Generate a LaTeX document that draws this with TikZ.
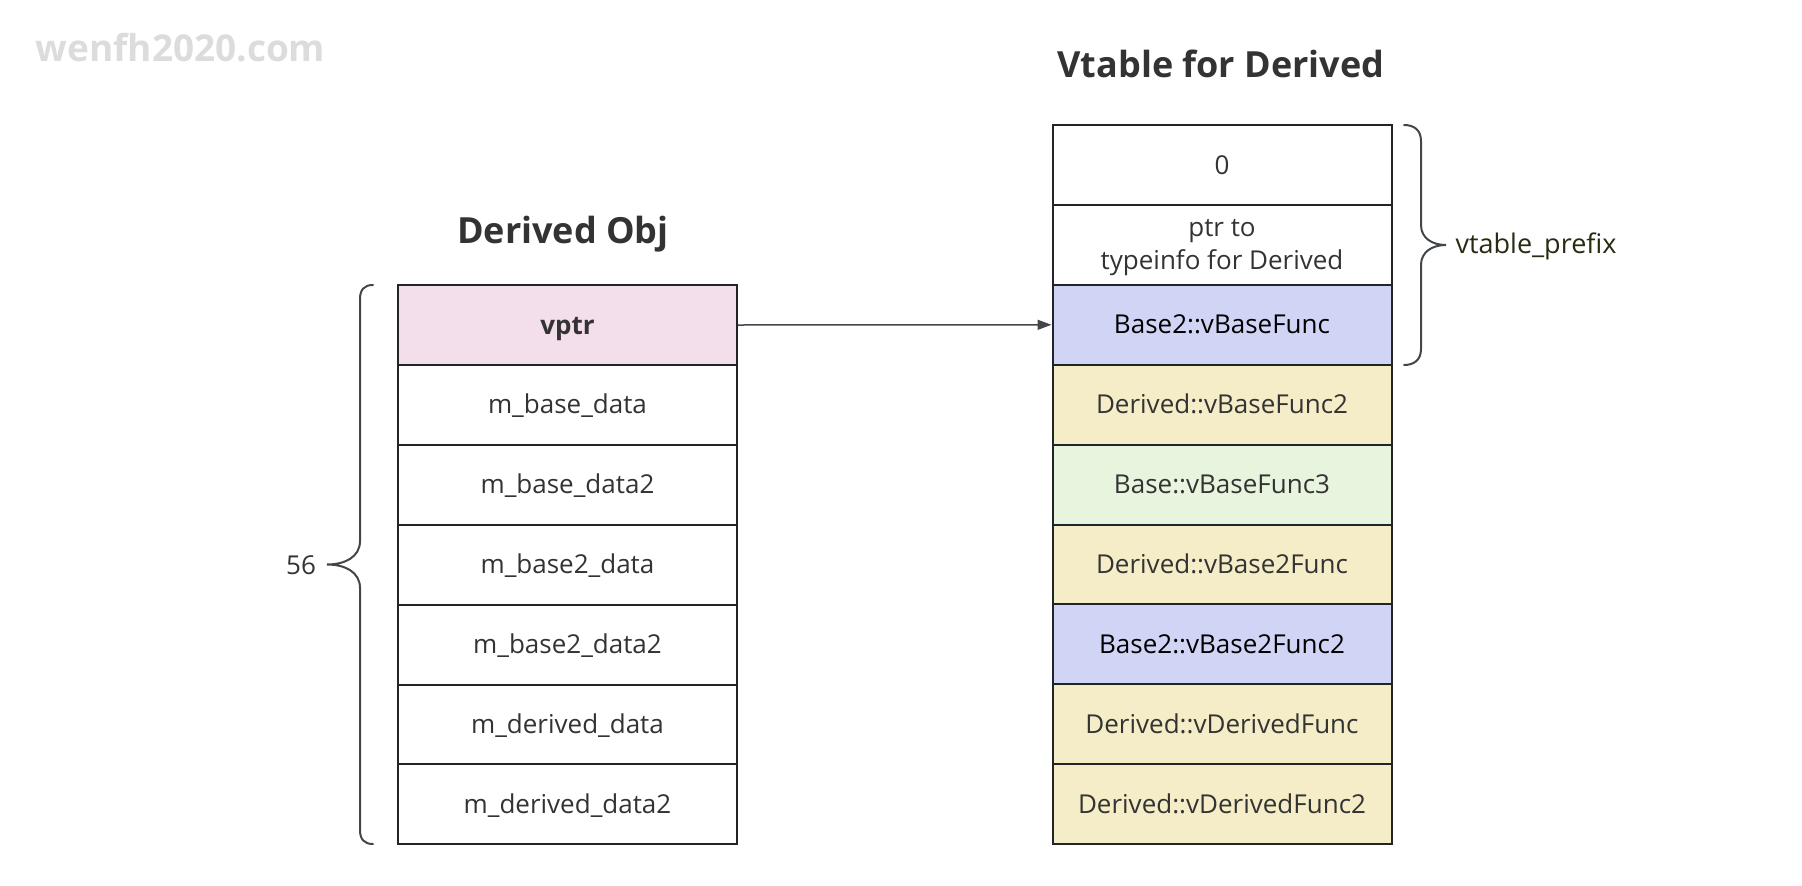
\documentclass[tikz,border=0pt]{standalone}
\usepackage{fontspec}
\setmainfont{Open Sans}
\usetikzlibrary{arrows.meta}
\definecolor{linec}{HTML}{212529}
\definecolor{txtc}{HTML}{333333}
\definecolor{pinkc}{HTML}{F3DEEC}
\definecolor{bluec}{HTML}{D1D5F5}
\definecolor{yelc}{HTML}{F5EDC7}
\definecolor{grnc}{HTML}{E7F4DE}
\definecolor{wmc}{HTML}{DCDCDC}
\definecolor{prefc}{HTML}{2A2A10}
\begin{document}
\begin{tikzpicture}[x=1pt,y=-1pt,
  cellfont/.style={font=\fontsize{26}{33}\selectfont},
  cell/.style={draw=linec, line width=2pt, minimum width=339pt, minimum height=79.9pt,
    inner sep=0pt, text=txtc, cellfont, align=center, text height=19pt, text depth=1pt},
  title/.style={text=txtc, font=\fontsize{36}{40}\selectfont\bfseries},
  bracec/.style={draw=linec!85, line width=2pt, line cap=round}]
\useasboundingbox (0,0) rectangle (1802,886);
% watermark
\node[text=wmc, font=\fontsize{37}{40}\selectfont\bfseries, anchor=west] (wm) at (32,48) {wenfh2020.com};
% titles
\node[title] (t1) at (563,234) {Derived Obj};
\node[title] (t2) at (1221,64) {Vtable for Derived};
% left table
\node[cell, fill=pinkc, font=\fontsize{26}{33}\selectfont\bfseries] (l1) at (567.5,325) {vptr};
\node[cell] (l2) at (567.5,404.9) {m\_base\_data};
\node[cell] (l3) at (567.5,484.8) {m\_base\_data2};
\node[cell] (l4) at (567.5,564.7) {m\_base2\_data};
\node[cell] (l5) at (567.5,644.6) {m\_base2\_data2};
\node[cell] (l6) at (567.5,724.5) {m\_derived\_data};
\node[cell] (l7) at (567.5,804.4) {m\_derived\_data2};
% right table
\node[cell] (r1) at (1222,165) {0};
\node[cell, text height=, text depth=0pt] (r2) at (1222,244.9) {ptr to\\typeinfo for Derived};
\node[cell, fill=bluec, text=black] (r3) at (1222,324.8) {Base2::vBaseFunc};
\node[cell, fill=yelc] (r4) at (1222,404.7) {Derived::vBaseFunc2};
\node[cell, fill=grnc] (r5) at (1222,484.6) {Base::vBaseFunc3};
\node[cell, fill=yelc] (r6) at (1222,564.5) {Derived::vBase2Func};
\node[cell, fill=bluec, text=black] (r7) at (1222,644.4) {Base2::vBase2Func2};
\node[cell, fill=yelc] (r8) at (1222,724.3) {Derived::vDerivedFunc};
\node[cell, fill=yelc] (r9) at (1222,804.2) {Derived::vDerivedFunc2};
% arrow
\draw[draw=linec!85, line width=1.5pt, -{Triangle[length=14pt,width=10pt]}] (l1.east) -- (r3.west);
% left brace
\coordinate (lbtip) at (327,564.5);
\draw[bracec] (373,285) .. controls (364,285) and (360,290) .. (360,299)
  -- (360,541) .. controls (360,557) and (345,564.5) .. (lbtip)
  .. controls (345,564.5) and (360,572) .. (360,588)
  -- (360,830) .. controls (360,839) and (364,844) .. (373,844);
\node[text=txtc, cellfont] (n56) at (301,565) {56};
% right brace
\coordinate (rbtip) at (1446,245);
\draw[bracec] (1404,125) .. controls (1414,125) and (1421,130) .. (1421,141)
  -- (1421,225) .. controls (1421,238) and (1432,245) .. (rbtip)
  .. controls (1432,245) and (1421,252) .. (1421,265)
  -- (1421,349) .. controls (1421,360) and (1414,365) .. (1404,365);
\node[text=prefc, font=\fontsize{27}{33}\selectfont, anchor=west] (pref) at (1452,246) {vtable\_prefix};
\end{tikzpicture}
\end{document}
